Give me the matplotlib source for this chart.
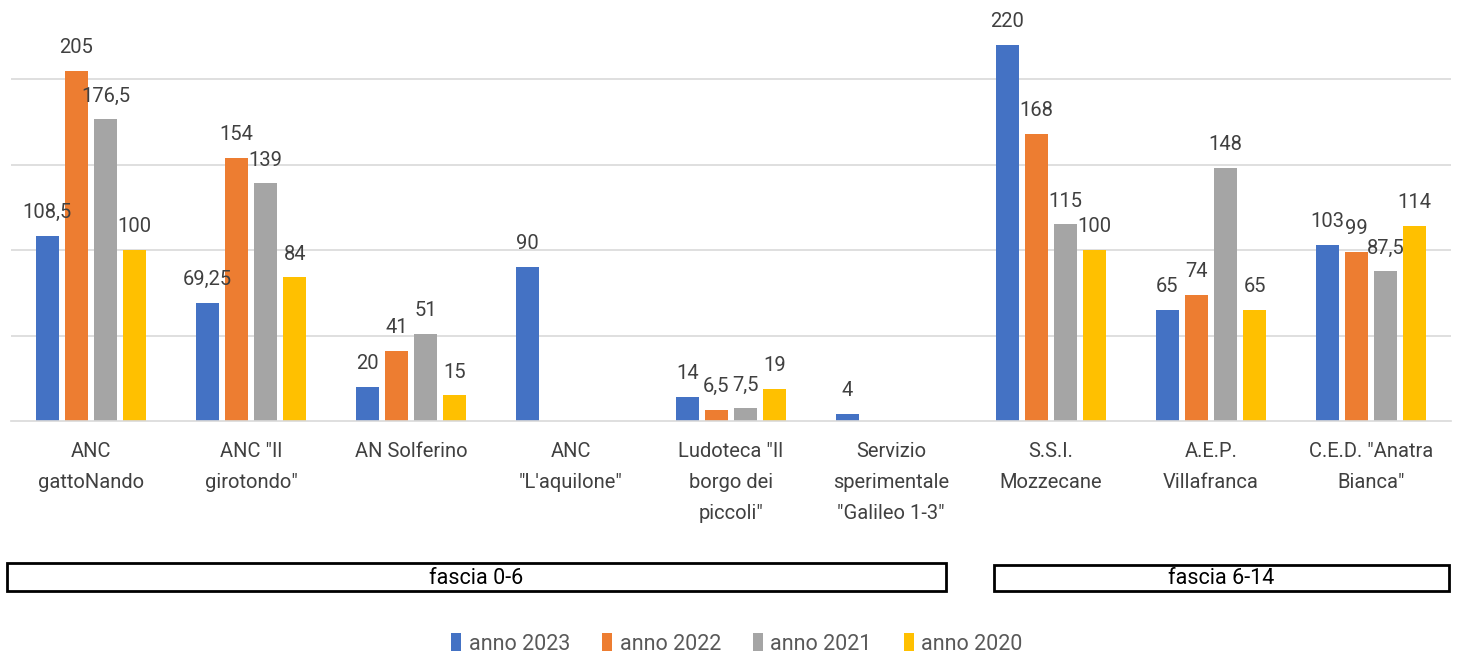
import numpy as np
import matplotlib
matplotlib.use("Agg")
import matplotlib.pyplot as plt
import matplotlib.patches as patches

plt.rcParams['font.family'] = ['Roboto', 'DejaVu Sans']

categories = ['ANC\ngattoNando', 'ANC "Il\ngirotondo"', 'AN Solferino', 'ANC\n"L\'aquilone"',
              'Ludoteca "Il\nborgo dei\npiccoli"', 'Servizio\nsperimentale\n"Galileo 1-3"',
              'S.S.I.\nMozzecane', 'A.E.P.\nVillafranca', 'C.E.D. "Anatra\nBianca"']
series_names = ['anno 2023', 'anno 2022', 'anno 2021', 'anno 2020']
anno_2023 = [108.5, 69.25, 20, 90, 14, 4, 220, 65, 103]
anno_2022 = [205, 154, 41, np.nan, 6.5, np.nan, 168, 74, 99]
anno_2021 = [176.5, 139, 51, np.nan, 7.5, np.nan, 115, 148, 87.5]
anno_2020 = [100, 84, 15, np.nan, 19, np.nan, 100, 65, 114]
fasce = ['fascia 0-6', 'fascia 6-14']

colors = ['#4472C4', '#ED7D31', '#A5A5A5', '#FFC000']
series = [anno_2023, anno_2022, anno_2021, anno_2020]


def fmt(v):
    s = ('%.2f' % v).rstrip('0').rstrip('.')
    return s.replace('.', ',')


W, H = 1457, 657
fig = plt.figure(figsize=(W / 100, H / 100), dpi=100)
ax = fig.add_axes([11 / W, (H - 421) / H, 1440 / W, 421 / H])

x = np.arange(len(categories))
pitch = 0.182
bw = 0.145
for i, (vals, c, name) in enumerate(zip(series, colors, series_names)):
    pos = x + (i - 1.5) * pitch
    ax.bar(pos, vals, width=bw, color=c, label=name, zorder=2)
    for p, v in zip(pos, vals):
        if not np.isnan(v):
            ax.text(p, v + 8, fmt(v), ha='center', va='bottom', fontsize=14.5,
                    color='#404040', zorder=3)

ax.set_xlim(-0.5, len(categories) - 0.5)
ax.set_ylim(0, 246.3)
ax.set_yticks([50, 100, 150, 200])
ax.yaxis.grid(True, color='#D9D9D9', linewidth=1.2, zorder=0)
ax.set_yticklabels([])
ax.tick_params(axis='y', length=0)
ax.set_xticks(x)
ax.set_xticklabels(categories, fontsize=14.5, color='#404040', linespacing=1.8)
ax.tick_params(axis='x', length=0, pad=15)
for s in ['top', 'right', 'left']:
    ax.spines[s].set_visible(False)
ax.spines['bottom'].set_color('#D9D9D9')
ax.spines['bottom'].set_linewidth(1.2)

# group boxes below the chart
boxes = [(7, 563, 939, 28), (994, 565, 455, 26)]
for (bx, by, bwid, bh), label in zip(boxes, fasce):
    rect = patches.Rectangle((bx / W, (H - by - bh) / H), bwid / W, bh / H,
                             transform=fig.transFigure, fill=False,
                             edgecolor='black', linewidth=2)
    fig.add_artist(rect)
    fig.text((bx + bwid / 2) / W, (H - by - bh / 2 - 1) / H, label, ha='center',
             va='center', fontsize=15.5, color='black')

leg = fig.legend(loc='center', bbox_to_anchor=(737 / W, (H - 644) / H), ncol=4,
                 frameon=False, fontsize=15.5, handlelength=0.45, handleheight=0.9,
                 handletextpad=0.35, columnspacing=1.5)
for t in leg.get_texts():
    t.set_color('#595959')

fig.savefig('out.png', dpi=100)
